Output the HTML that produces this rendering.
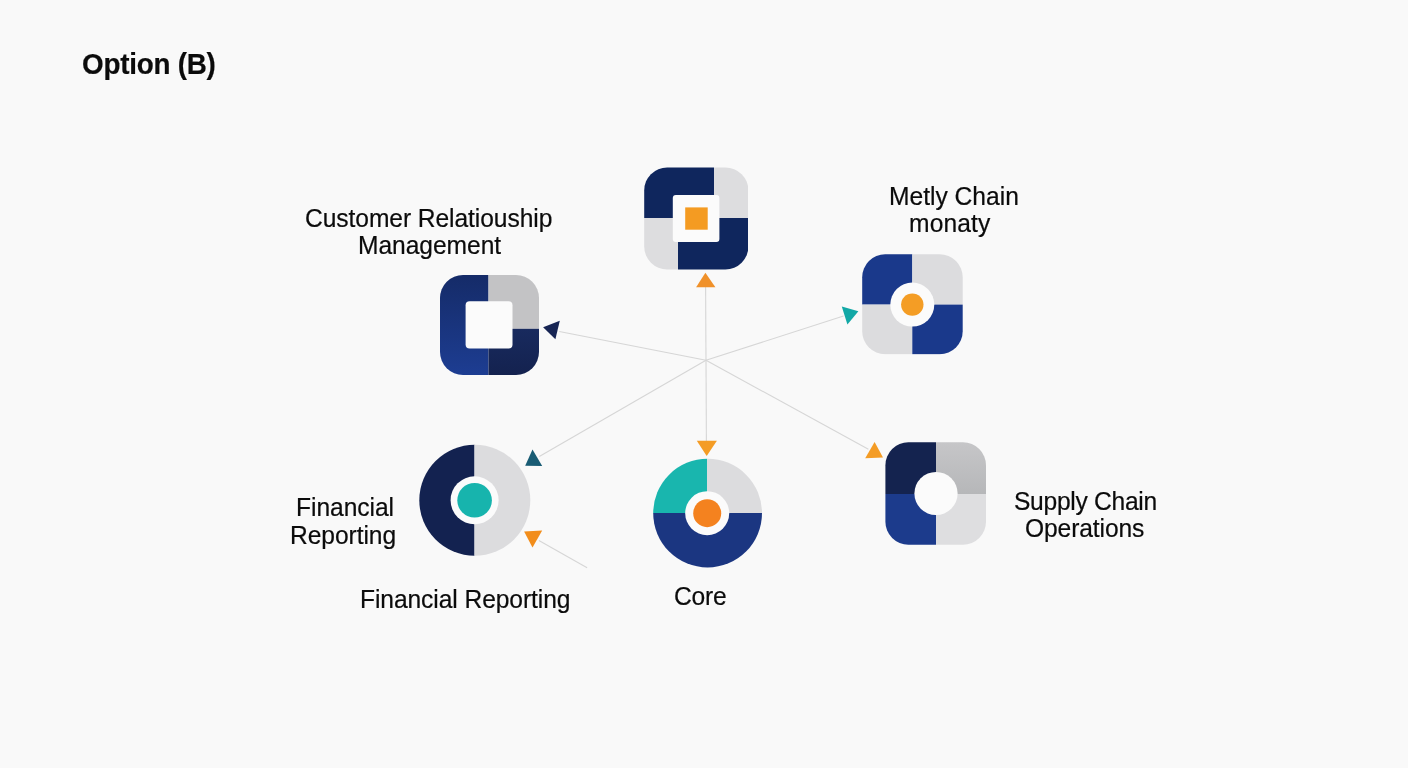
<!DOCTYPE html>
<html>
<head>
<meta charset="utf-8">
<style>
html,body{margin:0;padding:0;}
body{width:1408px;height:768px;background:#f9f9f9;position:relative;overflow:hidden;font-family:"Liberation Sans",sans-serif;color:#0b0b0b;}
.t{position:absolute;will-change:transform;-webkit-font-smoothing:antialiased;transform:scaleY(1.06);transform-origin:0 22px;-webkit-text-stroke:0.2px #0b0b0b;white-space:nowrap;font-size:24px;line-height:28px;text-align:center;}
svg{position:absolute;left:0;top:0;}
</style>
</head>
<body>
<svg width="1408" height="768" viewBox="0 0 1408 768">
  <defs>
    <clipPath id="cTop"><rect x="644.2" y="167.4" width="104.2" height="102" rx="23"/></clipPath>
    <clipPath id="cCrm"><rect x="440" y="275" width="99" height="100" rx="23"/></clipPath>
    <clipPath id="cMet"><rect x="862.2" y="254.2" width="100.5" height="100" rx="23"/></clipPath>
    <clipPath id="cSup"><rect x="885.4" y="442.2" width="100.6" height="102.6" rx="23"/></clipPath>
    <clipPath id="cFin"><circle cx="474.8" cy="500.3" r="55.5"/></clipPath>
    <clipPath id="cCore"><circle cx="707.6" cy="513.1" r="54.4"/></clipPath>
    <linearGradient id="gCrmL" x1="0" y1="0" x2="0" y2="1">
      <stop offset="0" stop-color="#152b68"/><stop offset="1" stop-color="#1d3d92"/>
    </linearGradient>
    <linearGradient id="gCrmBR" x1="0" y1="0" x2="0" y2="1">
      <stop offset="0" stop-color="#182a5e"/><stop offset="1" stop-color="#14224f"/>
    </linearGradient>
    <linearGradient id="gSupTR" x1="0" y1="0" x2="0" y2="1">
      <stop offset="0" stop-color="#c6c6c8"/><stop offset="1" stop-color="#b6b7b9"/>
    </linearGradient>
  </defs>
  <g stroke="#d6d6d6" stroke-width="1.1" fill="none">
    <line x1="706" y1="360.3" x2="705.6" y2="287"/>
    <line x1="706" y1="360.3" x2="706.4" y2="441"/>
    <line x1="706" y1="360.3" x2="559.3" y2="331.5"/>
    <line x1="706" y1="360.3" x2="843.5" y2="316"/>
    <line x1="706" y1="360.3" x2="539.3" y2="456.4"/>
    <line x1="706" y1="360.3" x2="868.4" y2="449.2"/>
    <line x1="538.9" y1="540.4" x2="587.1" y2="567.7"/>
  </g>
  <!-- top icon -->
  <g clip-path="url(#cTop)">
    <rect x="644" y="167" width="70" height="51" fill="#0f265d"/>
    <rect x="714" y="167" width="34" height="51" fill="#dddddf"/>
    <rect x="644" y="218" width="34" height="52" fill="#dddddf"/>
    <rect x="678" y="218" width="70" height="52" fill="#0f265d"/>
  </g>
  <rect x="672.8" y="195" width="46.6" height="47" rx="3" fill="#fbfbfb"/>
  <rect x="685.2" y="207.4" width="22.5" height="22.3" fill="#f49b22"/>
  <polygon points="696.1,287.3 705.4,272.8 715.4,287.3" fill="#f0912a"/>

  <!-- CRM icon -->
  <g clip-path="url(#cCrm)">
    <rect x="440" y="275" width="48.5" height="100" fill="url(#gCrmL)"/>
    <rect x="488.5" y="275" width="51" height="53.8" fill="#c3c3c5"/>
    <rect x="488.5" y="328.8" width="51" height="46.2" fill="url(#gCrmBR)"/>
  </g>
  <rect x="465.6" y="301.3" width="46.9" height="47.3" rx="4" fill="#fbfbfb"/>
  <polygon points="543.1,327.3 559.8,320.7 555.4,339.3" fill="#172554"/>

  <!-- Metly icon -->
  <g clip-path="url(#cMet)">
    <rect x="862" y="254" width="50.3" height="50.6" fill="#1a398b"/>
    <rect x="912.3" y="254" width="51" height="50.6" fill="#dcdcde"/>
    <rect x="862" y="304.6" width="50.3" height="50" fill="#dcdcde"/>
    <rect x="912.3" y="304.6" width="51" height="50" fill="#1a398b"/>
  </g>
  <circle cx="912.3" cy="304.6" r="22" fill="#fbfbfb"/>
  <circle cx="912.3" cy="304.6" r="11.2" fill="#f49d25"/>
  <polygon points="841.8,306.6 858.4,311.2 847.4,324.5" fill="#12a8a6"/>

  <!-- Supply icon -->
  <g clip-path="url(#cSup)">
    <rect x="885" y="442" width="51" height="52" fill="#14234f"/>
    <rect x="936" y="442" width="51" height="52" fill="url(#gSupTR)"/>
    <rect x="885" y="494" width="51" height="51" fill="#1c3b8c"/>
    <rect x="936" y="494" width="51" height="51" fill="#dedee0"/>
  </g>
  <circle cx="936" cy="493.5" r="21.6" fill="#fbfbfb"/>
  <polygon points="865.2,458.3 874.6,442.1 883,457.4" fill="#f49c25"/>

  <!-- Financial circle -->
  <g clip-path="url(#cFin)">
    <rect x="419" y="444" width="55.5" height="112" fill="#132250"/>
    <rect x="474.5" y="444" width="57" height="112" fill="#dcdcde"/>
  </g>
  <circle cx="474.6" cy="500.3" r="24" fill="#fbfbfb"/>
  <circle cx="474.6" cy="500.3" r="17.3" fill="#17b4ad"/>
  <polygon points="525.2,465.7 532.5,449.5 542.2,466.1" fill="#195c74"/>
  <polygon points="524.1,531.6 542.2,530.6 532.5,547.6" fill="#f28d1b"/>

  <!-- Core circle -->
  <g clip-path="url(#cCore)">
    <rect x="653" y="458" width="54" height="55" fill="#19b6ae"/>
    <rect x="707" y="458" width="55" height="55" fill="#dcdcde"/>
    <rect x="653" y="513" width="109" height="55" fill="#1b3681"/>
  </g>
  <circle cx="707.2" cy="513.2" r="22" fill="#fbfbfb"/>
  <circle cx="707.2" cy="513.2" r="14" fill="#f4821f"/>
  <polygon points="696.8,440.8 716.9,440.8 706.7,455.9" fill="#f49c25"/>
</svg>

<div class="t" style="left:82.2px;top:50.7px;font-size:27.8px;letter-spacing:-0.23px;font-weight:bold;transform:scaleY(1.09);transform-origin:0 23px">Option (B)</div>
<div class="t" style="left:305.2px;top:204.7px;font-size:24.6px;letter-spacing:-0.07px">Customer Relatiouship</div>
<div class="t" style="left:357.5px;top:231.9px;font-size:24.6px;letter-spacing:-0.05px">Management</div>
<div class="t" style="left:889.3px;top:182.8px;font-size:24.6px;letter-spacing:0.0px">Metly Chain</div>
<div class="t" style="left:908.9px;top:210.3px;font-size:24.6px;letter-spacing:0.15px">monaty</div>
<div class="t" style="left:1014px;top:488px;font-size:24.6px;letter-spacing:-0.28px">Supply Chain</div>
<div class="t" style="left:1024.7px;top:515.3px;font-size:24.6px;letter-spacing:-0.1px">Operations</div>
<div class="t" style="left:296.2px;top:494.4px;font-size:24.6px;letter-spacing:-0.05px">Financial</div>
<div class="t" style="left:290.2px;top:522.1px;font-size:24.6px;letter-spacing:-0.07px">Reporting</div>
<div class="t" style="left:359.5px;top:586.1px;font-size:24.6px;letter-spacing:-0.08px">Financial Reporting</div>
<div class="t" style="left:673.5px;top:583.1px;font-size:24.6px;letter-spacing:-0.2px">Core</div>
</body>
</html>
